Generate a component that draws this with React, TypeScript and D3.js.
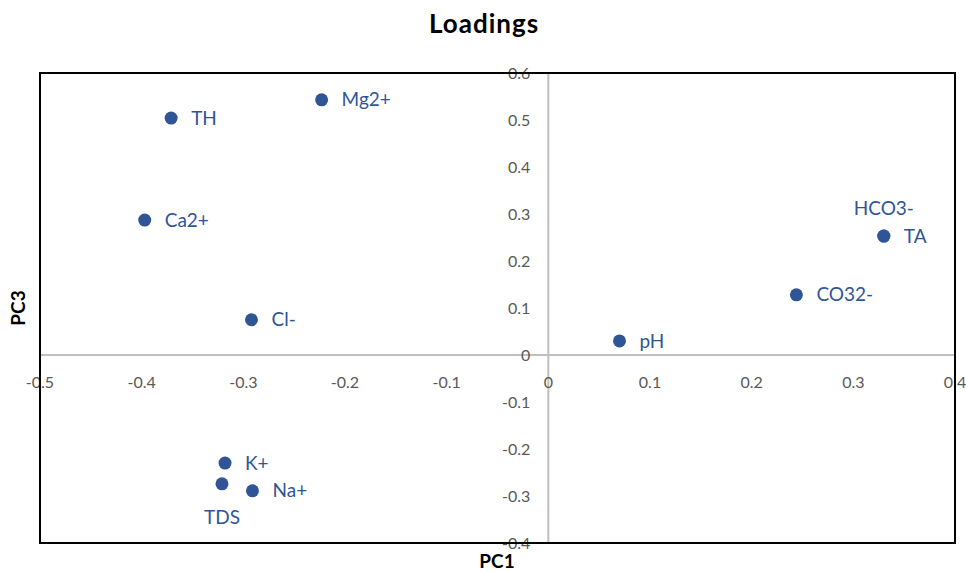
import React, { useEffect, useRef } from "react";
import * as d3 from "d3";

const names = ["TH", "Mg2+", "Ca2+", "Cl-", "K+", "TDS", "Na+", "pH", "CO32-", "TA", "HCO3-"];
const pc1 = [-0.371, -0.223, -0.397, -0.292, -0.318, -0.321, -0.291, 0.07, 0.244, 0.33, 0.33];
const pc3 = [0.504, 0.543, 0.287, 0.075, -0.23, -0.274, -0.289, 0.03, 0.128, 0.253, 0.253];
// where each label sits relative to its point
const labelPos = ["right", "right", "right", "right", "right", "below", "right", "right", "right", "right", "above"];

const xTicks = [-0.5, -0.4, -0.3, -0.2, -0.1, 0, 0.1, 0.2, 0.3, 0.4];
const yTicks = [-0.4, -0.3, -0.2, -0.1, 0, 0.1, 0.2, 0.3, 0.4, 0.5, 0.6];

const W = 966;
const H = 572;
const FONT = "Lato, 'Open Sans', sans-serif";

// excel style: plain hyphen for negatives
const fmt = (v: number) => String(+v.toFixed(1));

export default function App() {
  const svgRef = useRef<SVGSVGElement>(null);

  useEffect(() => {
    const svg = d3.select(svgRef.current);
    svg.selectAll("*").remove();

    const left = 40, right = 955, top = 73, bottom = 543;

    const x = d3.scaleLinear().domain([-0.5, 0.4]).range([left, right]);
    const y = d3.scaleLinear().domain([-0.4, 0.6]).range([bottom, top]);

    svg.append("rect").attr("width", W).attr("height", H).attr("fill", "#fff");

    // title
    svg.append("text")
      .attr("x", 484).attr("y", 33)
      .attr("text-anchor", "middle")
      .attr("font-family", FONT)
      .attr("font-weight", "bold")
      .attr("font-size", 26)
      .attr("letter-spacing", 1)
      .text("Loadings");

    // zero axes
    svg.append("line")
      .attr("x1", left).attr("x2", right)
      .attr("y1", y(0)).attr("y2", y(0))
      .attr("stroke", "#bfbfbf").attr("stroke-width", 2);
    svg.append("line")
      .attr("x1", x(0)).attr("x2", x(0))
      .attr("y1", top).attr("y2", bottom)
      .attr("stroke", "#bfbfbf").attr("stroke-width", 2);

    // tick labels
    svg.append("g").selectAll("text")
      .data(xTicks)
      .join("text")
      .attr("x", d => x(d))
      .attr("y", y(0) + 33)
      .attr("text-anchor", "middle")
      .attr("font-family", FONT)
      .attr("font-size", 16)
      .attr("fill", "#595959")
      .text(fmt);

    svg.append("g").selectAll("text")
      .data(yTicks)
      .join("text")
      .attr("x", x(0) - 18)
      .attr("y", d => y(d))
      .attr("dy", "0.35em")
      .attr("text-anchor", "end")
      .attr("font-family", FONT)
      .attr("font-size", 16)
      .attr("fill", "#595959")
      .text(fmt);

    // plot border
    svg.append("rect")
      .attr("x", left).attr("y", top)
      .attr("width", right - left).attr("height", bottom - top)
      .attr("fill", "none")
      .attr("stroke", "#000").attr("stroke-width", 2);

    // axis titles
    svg.append("text")
      .attr("x", 497).attr("y", 568)
      .attr("text-anchor", "middle")
      .attr("font-family", FONT)
      .attr("font-weight", "bold")
      .attr("font-size", 19)
      .text("PC1");
    svg.append("text")
      .attr("transform", `translate(25,308) rotate(-90)`)
      .attr("text-anchor", "middle")
      .attr("font-family", FONT)
      .attr("font-weight", "bold")
      .attr("font-size", 19)
      .text("PC3");

    const pts = names.map((n, i) => ({ n, px: x(pc1[i]), py: y(pc3[i]), pos: labelPos[i] }));

    // points
    svg.append("g").selectAll("circle")
      .data(pts)
      .join("circle")
      .attr("cx", d => d.px)
      .attr("cy", d => d.py)
      .attr("r", 6.5)
      .attr("fill", "#2f5597");

    // labels
    svg.append("g").selectAll("text")
      .data(pts)
      .join("text")
      .attr("x", d => (d.pos === "right" ? d.px + 20 : d.px))
      .attr("y", d => (d.pos === "above" ? d.py - 28 : d.pos === "below" ? d.py + 34 : d.py))
      .attr("dy", "0.35em")
      .attr("text-anchor", d => (d.pos === "right" ? "start" : "middle"))
      .attr("font-family", FONT)
      .attr("font-size", 19)
      .attr("fill", "#2f5597")
      .text(d => d.n);
  }, []);

  return (
    <svg
      ref={svgRef}
      width={W}
      height={H}
      style={{ display: "block", position: "absolute", left: 0, top: 0 }}
    />
  );
}
